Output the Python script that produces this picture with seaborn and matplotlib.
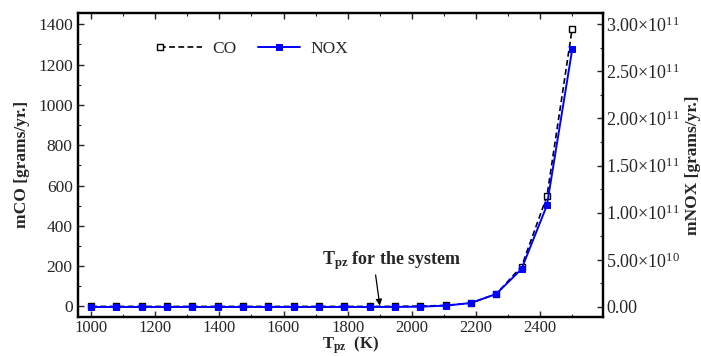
import numpy as np
import pandas as pd
import matplotlib
matplotlib.use("Agg")
import matplotlib.pyplot as plt
import seaborn as sns
from matplotlib.ticker import MultipleLocator, FuncFormatter
from matplotlib.legend_handler import HandlerLine2D

# ---- data ----
temps = [1000.0, 1078.9, 1157.9, 1236.8, 1315.8, 1394.7, 1473.7, 1552.6, 1631.6, 1710.5,
         1789.5, 1868.4, 1947.4, 2026.3, 2105.3, 2184.2, 2263.2, 2342.1, 2421.1, 2500.0]
co_vals = [0, 0, 0, 0, 0, 0, 0, 0, 0, 0,
           0, 0, 0.3, 1.5, 5, 17, 62, 198, 546, 1379]
nox_vals = [0, 0, 0, 0, 0, 0, 0, 0, 0, 0,
            0, 0, 0.05e9, 0.3e9, 1.4e9, 4.2e9, 1.38e10, 4.03e10, 1.077e11, 2.73e11]
series_names = ["CO", "NOX"]

df = pd.DataFrame({"T": temps, "CO": co_vals, "NOX": nox_vals})

sns.set_style("ticks")
plt.rcParams["font.family"] = ["Liberation Serif", "DejaVu Serif"]
plt.rcParams["mathtext.fontset"] = "custom"
plt.rcParams["mathtext.rm"] = "Liberation Serif"
plt.rcParams["mathtext.it"] = "Liberation Serif:italic"
plt.rcParams["mathtext.bf"] = "Liberation Serif:bold"

fig = plt.figure(figsize=(7.01, 3.56), dpi=100)
ax = fig.add_axes([0.1117, 0.1104, 0.7485, 0.8531])
ax2 = ax.twinx()

sns.lineplot(data=df, x="T", y="CO", ax=ax, color="black", linestyle=(0, (3.5, 2)),
             linewidth=1.2, marker="s", markersize=5, markerfacecolor="white",
             markeredgecolor="black", markeredgewidth=1.0, label=series_names[0], legend=False)
sns.lineplot(data=df, x="T", y="NOX", ax=ax2, color="#0000ff", linewidth=1.4,
             marker="s", markersize=5, markerfacecolor="#0000ff", markeredgecolor="#0000ff",
             label=series_names[1], legend=False)

ax.set_xlim(960, 2596)
ax.set_ylim(-51, 1456)
ax2.set_ylim(-1.03e10, 3.117e11)

ax.xaxis.set_major_locator(MultipleLocator(200))
ax.xaxis.set_minor_locator(MultipleLocator(100))
ax.yaxis.set_major_locator(MultipleLocator(200))
ax.yaxis.set_minor_locator(MultipleLocator(100))
ax2.yaxis.set_major_locator(MultipleLocator(5e10))
ax2.yaxis.set_minor_locator(MultipleLocator(2.5e10))


def sci_fmt(v, pos):
    if abs(v) < 1:
        return "0.00"
    e = int(np.floor(np.log10(abs(v))))
    m = v / 10 ** e
    return "%.2f\u00d710$^{%d}$" % (m, e)


ax2.yaxis.set_major_formatter(FuncFormatter(sci_fmt))

ax.tick_params(axis="both", which="major", direction="in", length=4, width=1.0,
               labelsize=12.5, top=True, right=False, pad=4)
ax.tick_params(axis="both", which="minor", direction="in", length=2, width=0.8,
               top=True, right=False)
ax.tick_params(axis="x", which="major", pad=2.5, labelsize=12)
ax2.tick_params(axis="y", which="major", direction="in", length=4, width=1.0,
                labelsize=13, pad=2.5)
ax2.tick_params(axis="y", which="minor", direction="in", length=2, width=0.8)

for a in (ax, ax2):
    for s in a.spines.values():
        s.set_linewidth(1.6)
        s.set_color("black")

ax.set_xlabel("T$_{\\mathbf{pz}}$  (K)", fontsize=12, fontweight="bold")
ax.xaxis.set_label_coords(0.518, -0.106)
ax.xaxis.label.set_va("baseline")
ax.set_ylabel("mCO [grams/yr.]", fontsize=12.5, fontweight="bold", labelpad=6)
ax2.set_ylabel("mNOX [grams/yr.]", fontsize=12.5, fontweight="bold", labelpad=3)

# annotation
ax.text(1937, 228, "T$_{\\mathbf{pz}}$ for the system", fontsize=13, fontweight="bold",
        ha="center", va="center")
ax.annotate("", xy=(1900, 4), xytext=(1887, 156),
            arrowprops=dict(arrowstyle="-|>", color="black", lw=0.9, mutation_scale=9,
                            shrinkA=0, shrinkB=0))


class LeftMarker(HandlerLine2D):
    def create_artists(self, *args, **kwargs):
        arts = super().create_artists(*args, **kwargs)
        for a in arts:
            a.set_markevery([0])
        return arts


h1 = ax.get_lines()[0]
h2 = ax2.get_lines()[0]
leg = ax2.legend([h1, h2], series_names, loc="center left", bbox_to_anchor=(0.126, 0.882),
                 ncol=2, frameon=False, fontsize=12.5, handlelength=2.4,
                 handletextpad=0.6, columnspacing=1.25, numpoints=1,
                 handler_map={h1: LeftMarker(numpoints=1)})

fig.savefig("out.png", dpi=100)
